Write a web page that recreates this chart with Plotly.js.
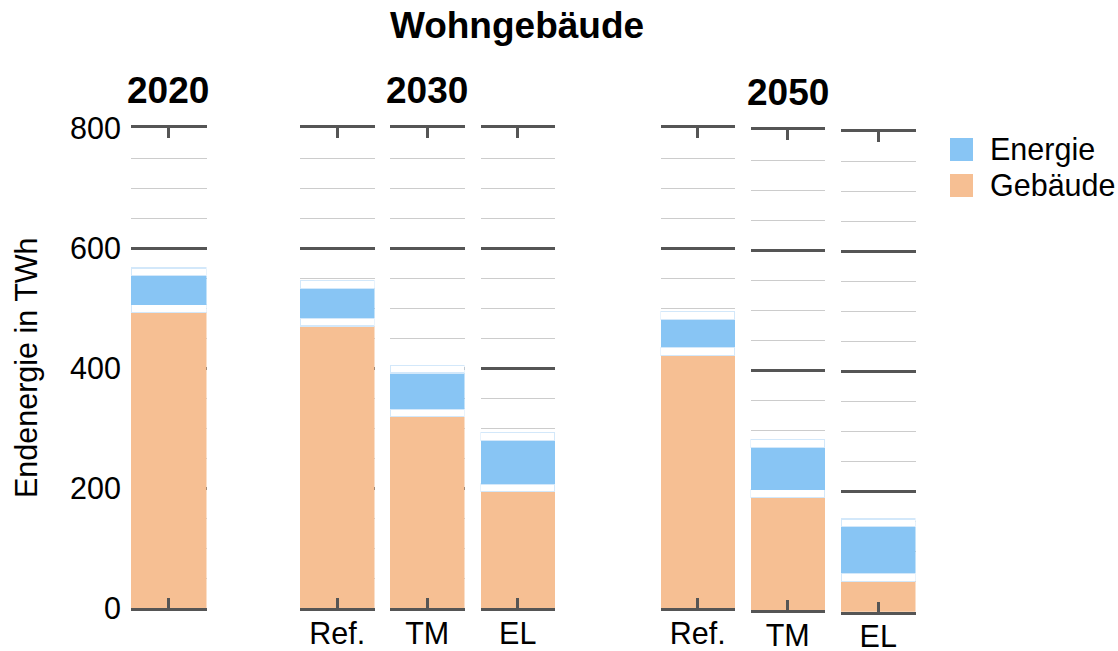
<!DOCTYPE html>
<html>
<head>
<meta charset="utf-8">
<script src="https://cdn.plot.ly/plotly-3.0.1.min.js"></script>
<style>html,body{margin:0;padding:0;background:#fff;}#chart{width:1118px;height:651px;}</style>
</head>
<body>
<div id="chart"></div>
<script>
// ---- data ----
const chartTitle = 'Wohngebäude';
const yTitle = 'Endenergie in TWh';
const yearGroups = ['2020', '2030', '2050'];
const barYear = ['2020', '2030', '2030', '2030', '2050', '2050', '2050'];
const scenarios = ['', 'Ref.', 'TM', 'EL', 'Ref.', 'TM', 'EL'];
const gebaeude = [493, 470, 319, 194, 422, 188, 51];
const energie = [48, 50, 60, 73, 47, 70, 78];
const seriesNames = ['Energie', 'Gebäude'];
const yTickVals = [0, 200, 400, 600, 800];

// ---- style / layout ----
const W = 1118, H = 651;
const FONT = 'Liberation Sans, Arial, sans-serif';
const BLUE = '#88c5f4', ORANGE = '#f6bf93';
const DARK = '#555555', LIGHT = '#cccccc';
const GAP = 12.8; // white separator band height (style)
const TXT = 30.5;
// pixel boxes for each bar panel: [left, right, bottom(0), top(800)]
const boxes = [
  [131, 206.5, 608, 128],
  [300, 374.5, 608, 128],
  [390, 464.5, 608, 128],
  [480.5, 555, 608, 128],
  [660.5, 735, 608.3, 128.3],
  [750.5, 825, 610, 130],
  [841, 915.5, 611.7, 131.7]
];
const yearLabelPos = {'2020': [168, 90], '2030': [427, 90], '2050': [788, 93]};

const traces = [];
const layout = {
  width: W, height: H,
  margin: {l: 0, r: 0, t: 0, b: 0},
  paper_bgcolor: '#ffffff', plot_bgcolor: 'rgba(0,0,0,0)',
  barmode: 'stack', bargap: 0,
  showlegend: false,
  font: {family: FONT, color: '#000'},
  title: {text: '<b>' + chartTitle + '</b>', font: {family: FONT, size: 37, color: '#000'},
          x: 517 / W, xanchor: 'center', y: 1 - 25 / H, yanchor: 'middle', xref: 'paper', yref: 'container'},
  annotations: [], shapes: []
};

gebaeude.forEach((g, i) => {
  const n = i + 1;
  const xa = 'x' + (n === 1 ? '' : n), ya = 'y' + (n === 1 ? '' : n);
  const xk = 'xaxis' + (n === 1 ? '' : n), yk = 'yaxis' + (n === 1 ? '' : n);
  const gapStyle = {color: '#ffffff', line: {color: '#d3e8fa', width: 1.2}};
  traces.push({type: 'bar', x: [0], y: [g], width: 1, xaxis: xa, yaxis: ya, name: seriesNames[1],
    marker: {color: ORANGE, line: {width: 0}}, hoverinfo: 'skip'});
  traces.push({type: 'bar', x: [0], y: [GAP], width: 1, xaxis: xa, yaxis: ya, marker: gapStyle, hoverinfo: 'skip'});
  traces.push({type: 'bar', x: [0], y: [energie[i]], width: 1, xaxis: xa, yaxis: ya, name: seriesNames[0],
    marker: {color: BLUE, line: {width: 0}}, hoverinfo: 'skip'});
  traces.push({type: 'bar', x: [0], y: [GAP], width: 1, xaxis: xa, yaxis: ya, marker: gapStyle, hoverinfo: 'skip'});

  const b = boxes[i];
  layout[xk] = {
    domain: [b[0] / W, b[1] / W], anchor: ya, range: [-0.5, 0.5],
    showgrid: false, zeroline: false,
    showline: true, linecolor: DARK, linewidth: 3, mirror: 'ticks',
    ticks: 'inside', ticklen: 10, tickwidth: 3, tickcolor: DARK,
    tickvals: [0], ticktext: [scenarios[i]],
    tickfont: {family: FONT, size: TXT, color: '#000'}, ticklabelstandoff: -4,
    fixedrange: true
  };
  layout[yk] = {
    domain: [1 - b[2] / H, 1 - b[3] / H], anchor: xa, range: [0, 800],
    tickvals: yTickVals, showticklabels: i === 0,
    tickfont: {family: FONT, size: TXT, color: '#000'}, ticks: '', ticklabelstandoff: 9,
    showgrid: true, gridcolor: DARK, gridwidth: 3, zeroline: false, showline: false,
    minor: {dtick: 50, tick0: 0, showgrid: true, gridcolor: LIGHT, gridwidth: 1, ticks: ''},
    fixedrange: true
  };
});

yearGroups.forEach(yr => {
  const p = yearLabelPos[yr];
  layout.annotations.push({text: '<b>' + yr + '</b>', xref: 'paper', yref: 'paper',
    x: p[0] / W, y: 1 - p[1] / H, xanchor: 'center', yanchor: 'middle', showarrow: false,
    font: {family: FONT, size: 37, color: '#000'}});
});

layout.annotations.push({text: yTitle, xref: 'paper', yref: 'paper', x: 26 / W, y: 1 - 368 / H,
  xanchor: 'center', yanchor: 'middle', textangle: -90, showarrow: false,
  font: {family: FONT, size: TXT, color: '#000'}});

// legend (drawn manually for large swatches)
const legendColors = [BLUE, ORANGE];
const legendY = [149.5, 185.5];
seriesNames.forEach((nm, k) => {
  layout.shapes.push({type: 'rect', xref: 'paper', yref: 'paper',
    x0: 950 / W, x1: 973 / W, y0: 1 - (legendY[k] - 11.5) / H, y1: 1 - (legendY[k] + 11.5) / H,
    fillcolor: legendColors[k], line: {width: 0}});
  layout.annotations.push({text: nm, xref: 'paper', yref: 'paper', x: 988 / W, y: 1 - legendY[k] / H,
    xanchor: 'left', yanchor: 'middle', showarrow: false, font: {family: FONT, size: TXT, color: '#000'}});
});

Plotly.newPlot('chart', traces, layout, {displayModeBar: false, staticPlot: true});
</script>
</body>
</html>
